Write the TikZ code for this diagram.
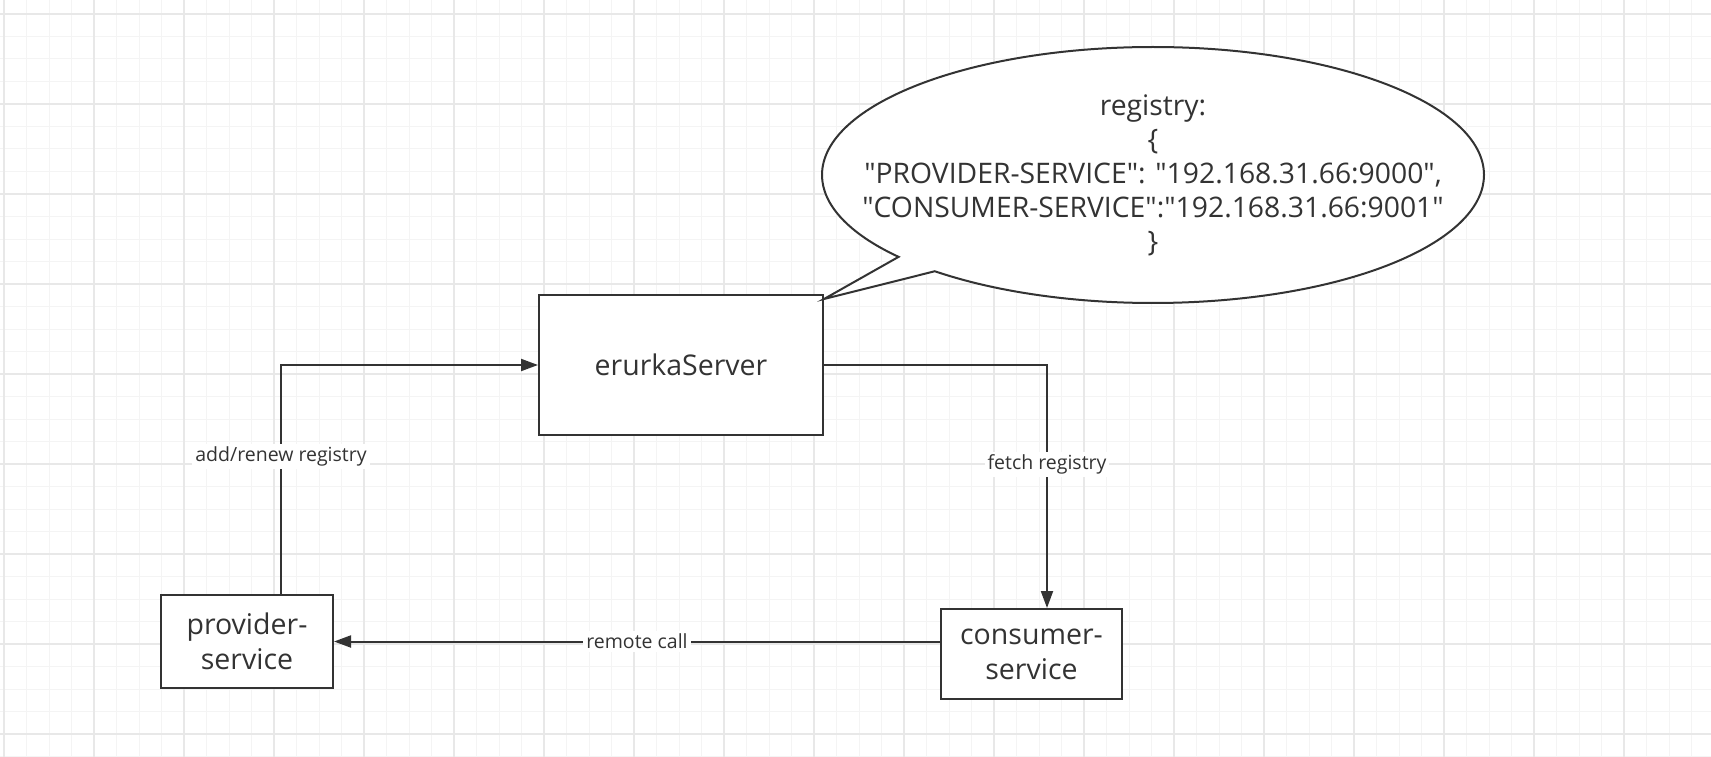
\documentclass[tikz,border=0pt]{standalone}
\usepackage{fontspec}
\setmainfont{Open Sans}[Ligatures=TeXOff]
\usetikzlibrary{arrows.meta, shapes.callouts}

\definecolor{ink}{HTML}{333333}
\definecolor{gridminor}{HTML}{F4F4F4}
\definecolor{gridmajor}{HTML}{E8E8E8}

\begin{document}
\begin{tikzpicture}[x=1pt, y=1pt, >={Triangle[length=17pt,width=12pt]},
		service/.style={draw=ink, line width=2pt, fill=white, text=ink, inner sep=2pt, align=center, font=\fontsize{28.5}{35}\selectfont},
		flow/.style={fill=white, text=ink, inner sep=3pt, font=\fontsize{19.5}{22}\selectfont},
		link/.style={->, draw=ink, line width=2pt}]
		\useasboundingbox (0,0) rectangle (1711,-757);
		\fill[white] (0,0) rectangle (1711,-757);
		\foreach \i in {0,...,75} \draw[gridminor, line width=1pt] ({4+22.5*\i},0) -- ({4+22.5*\i},-757);
		\foreach \i in {0,...,33} \draw[gridminor, line width=1pt] (0,{-14-22.5*\i}) -- (1711,{-14-22.5*\i});
		\foreach \i in {0,...,18} \draw[gridmajor, line width=1.2pt] ({4+90*\i},0) -- ({4+90*\i},-757);
		\foreach \i in {0,...,8} \draw[gridmajor, line width=1.2pt] (0,{-14-90*\i}) -- (1711,{-14-90*\i});
		
		\node[service, minimum width=284pt, minimum height=140pt] (server) at (681,-365) {erurkaServer};
		\node[service, minimum width=172pt, minimum height=93pt] (provider) at ([shift={(-434,-276.5)}]server) {provider-\\service};
		\node[service, minimum width=181pt, minimum height=90pt] (consumer) at ([shift={(350.5,-289)}]server) {consumer-\\service};
		\node[ellipse callout, draw=ink, line width=2pt, fill=white, minimum width=662pt, minimum height=256pt, inner sep=0pt,
			callout absolute pointer={([yshift=-5pt]server.north east)}, callout pointer arc=9] (registry) at ([shift={(472,190)}]server) {};
		\node[text=ink, align=center, font=\fontsize{28.3}{34}\selectfont] (registrytext) at (registry) {registry:\\\{\\"PROVIDER-SERVICE": "192.168.31.66:9000",\\"CONSUMER-SERVICE":"192.168.31.66:9001"\\\}};
		
		\draw[link] ([xshift=34pt]provider.north) |- (server) node[flow, pos=0.3] {add/renew registry};
		\draw[link] (server) -| ([xshift=15.5pt]consumer.north) node[flow, pos=0.705] {fetch registry};
		\draw[link] (consumer.west |- provider) -- (provider) node[flow, midway] {remote call};
	\end{tikzpicture}
\end{document}
